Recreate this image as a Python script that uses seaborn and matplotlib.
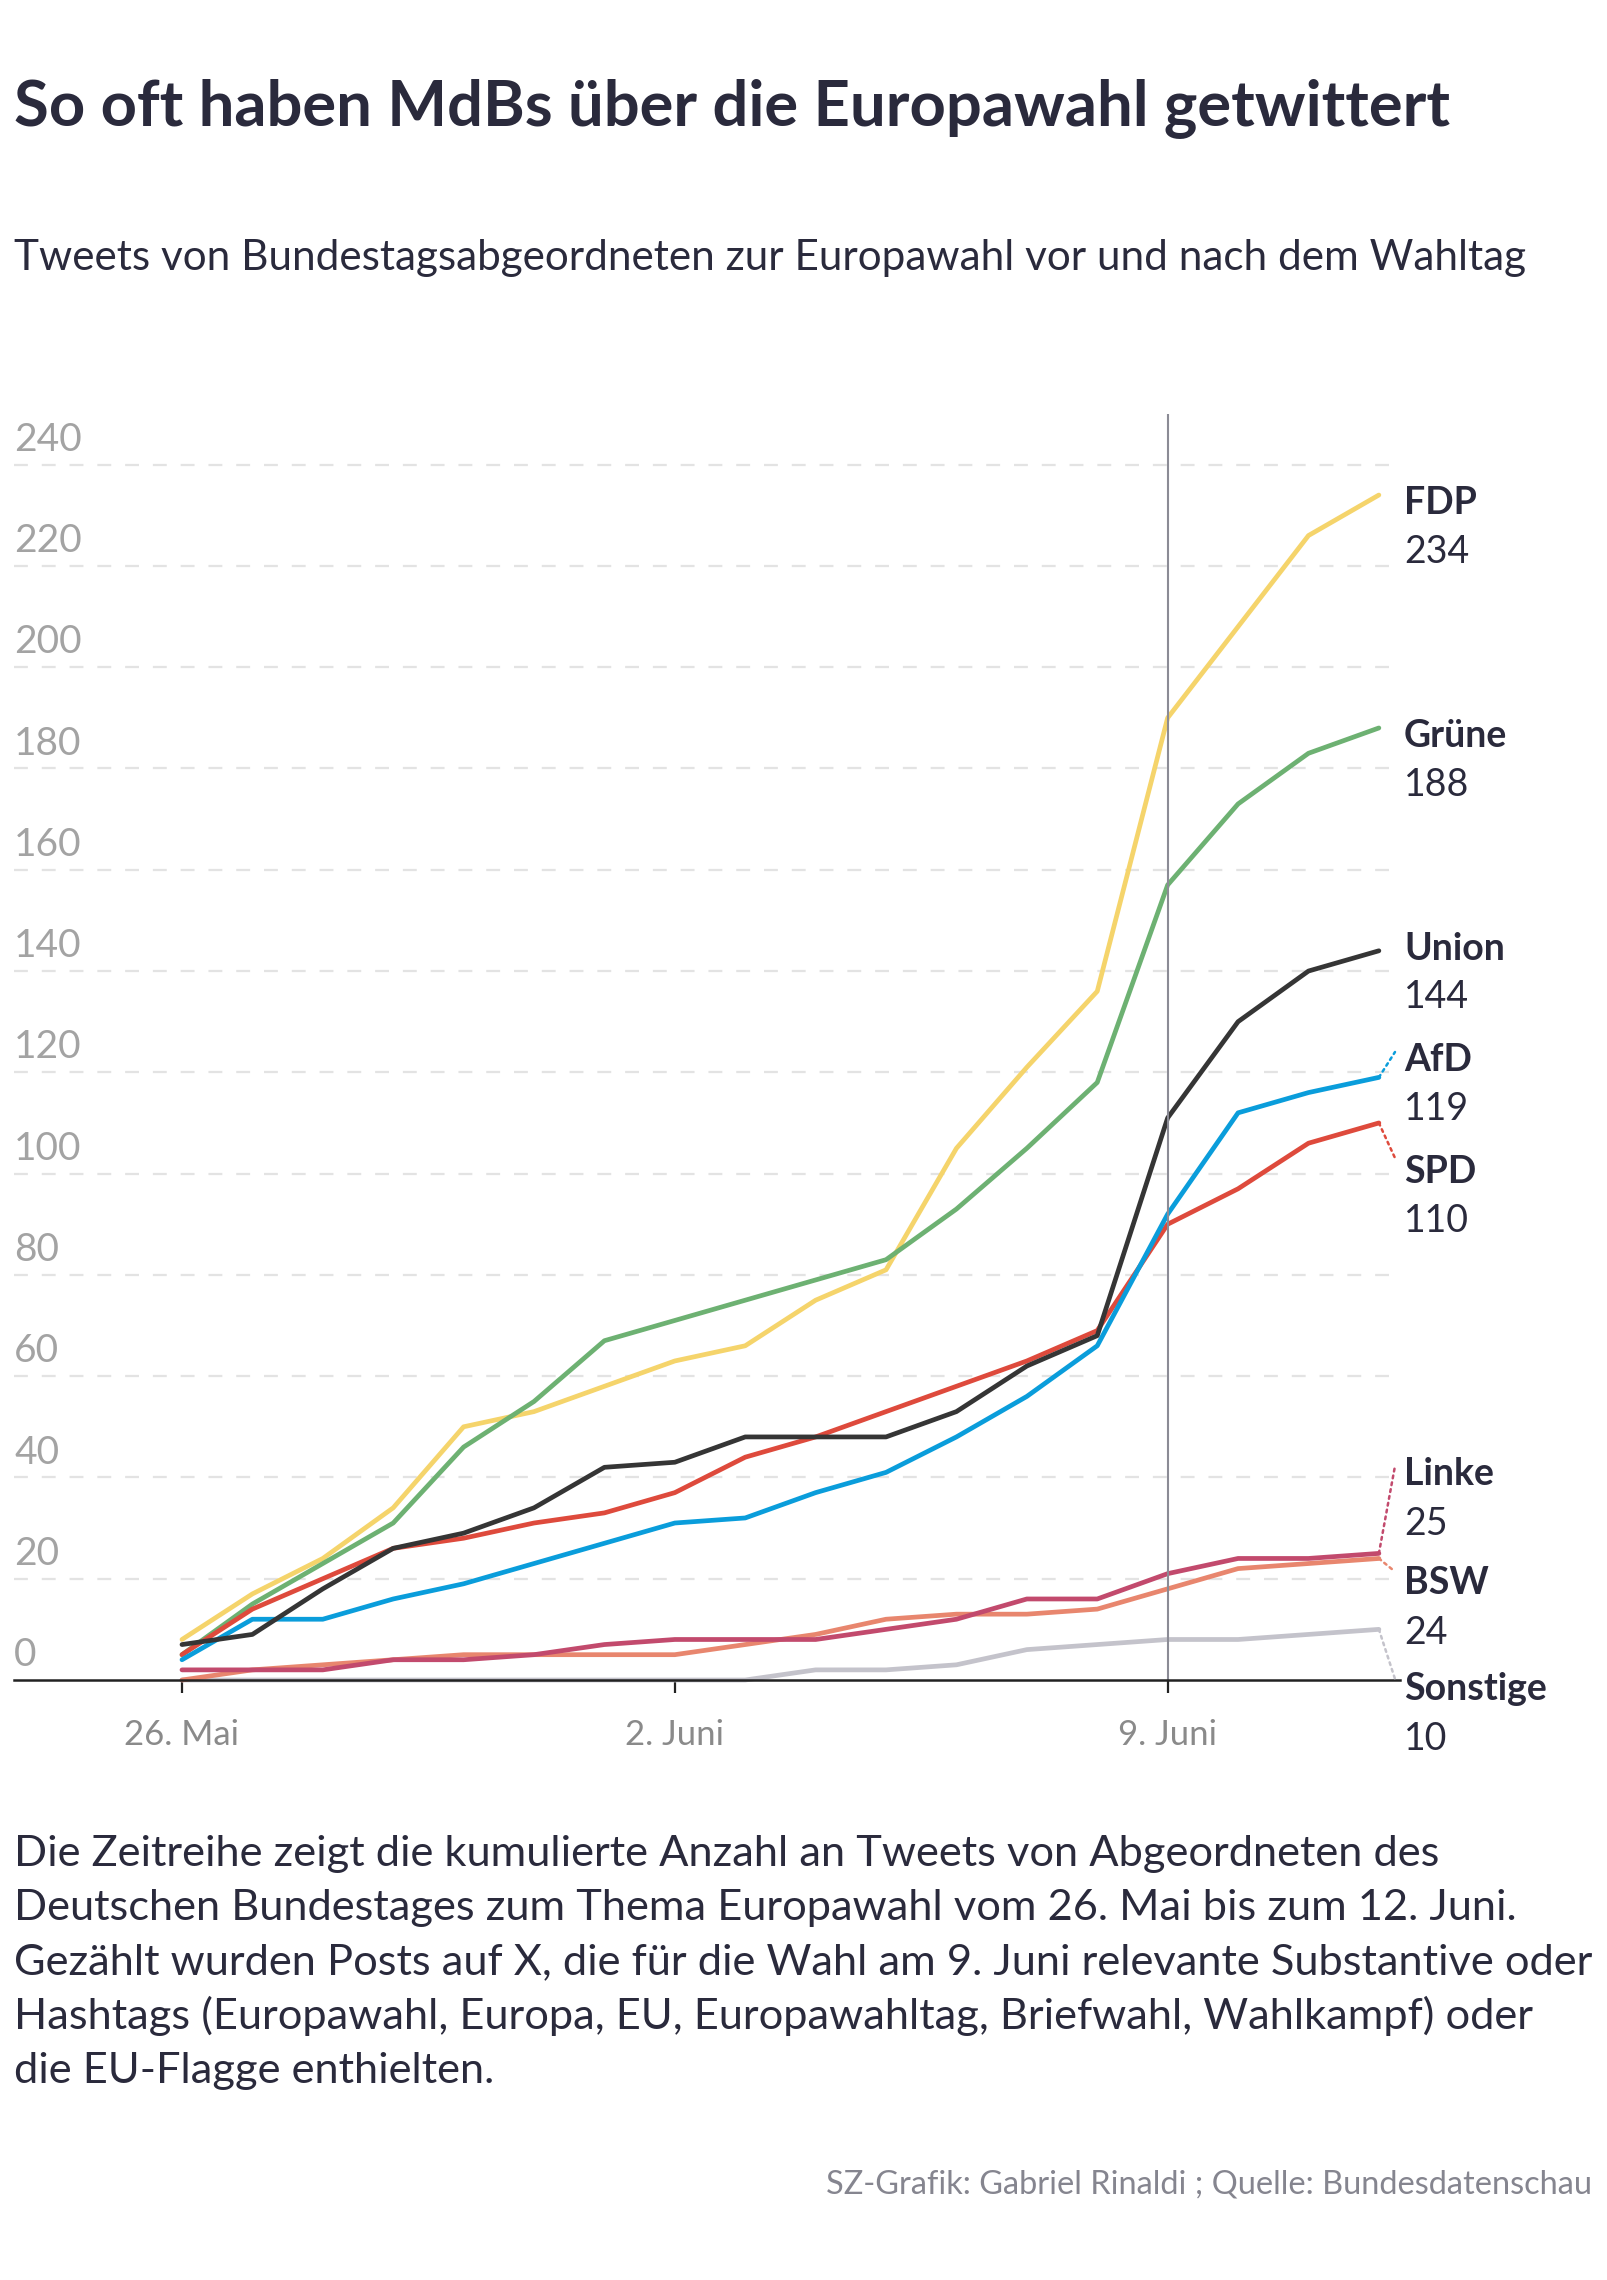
import matplotlib
matplotlib.use("Agg")
import matplotlib.pyplot as plt
import matplotlib.dates as mdates
import matplotlib.transforms as mtrans
from matplotlib.patches import ConnectionPatch
import seaborn as sns
import pandas as pd

sns.set_theme(style="white")
plt.rcParams['font.family'] = ['Lato', 'DejaVu Sans']
plt.rcParams['lines.scale_dashes'] = False

# ---------------- data ----------------
dates = pd.date_range("2024-05-26", "2024-06-12", freq="D")
parties = ["Sonstige", "BSW", "Linke", "FDP", "Grüne", "SPD", "AfD", "Union"]
fdp      = [8, 17, 24, 34, 50, 53, 58, 63, 66, 75, 81, 105, 121, 136, 190, 208, 226, 234]
gruene   = [5, 15, 23, 31, 46, 55, 67, 71, 75, 79, 83, 93, 105, 118, 157, 173, 183, 188]
union    = [7, 9, 18, 26, 29, 34, 42, 43, 48, 48, 48, 53, 62, 68, 111, 130, 140, 144]
afd      = [4, 12, 12, 16, 19, 23, 27, 31, 32, 37, 41, 48, 56, 66, 92, 112, 116, 119]
spd      = [5, 14, 20, 26, 28, 31, 33, 37, 44, 48, 53, 58, 63, 69, 90, 97, 106, 110]
linke    = [2, 2, 2, 4, 4, 5, 7, 8, 8, 8, 10, 12, 16, 16, 21, 24, 24, 25]
bsw      = [0, 2, 3, 4, 5, 5, 5, 5, 7, 9, 12, 13, 13, 14, 18, 22, 23, 24]
sonstige = [0, 0, 0, 0, 0, 0, 0, 0, 0, 2, 2, 3, 6, 7, 8, 8, 9, 10]
y_ticks = [0, 20, 40, 60, 80, 100, 120, 140, 160, 180, 200, 220, 240]
x_tick_dates = ["2024-05-26", "2024-06-02", "2024-06-09"]
x_tick_labels = ["26. Mai", "2. Juni", "9. Juni"]

series = {"FDP": fdp, "Grüne": gruene, "Union": union, "AfD": afd,
          "SPD": spd, "Linke": linke, "BSW": bsw, "Sonstige": sonstige}
colors = {"FDP": "#f5d46b", "Grüne": "#6db172", "Union": "#353535",
          "AfD": "#0a9ddb", "SPD": "#de4a3c", "Linke": "#c24a6d",
          "BSW": "#e8866e", "Sonstige": "#c4c3cb"}

df = pd.concat([pd.DataFrame({"date": dates, "value": v, "party": k})
                for k, v in series.items()], ignore_index=True)

TXT = "#2a2a3c"
GRAY = "#a3a3a3"

fig = plt.figure(figsize=(16.08, 22.8), dpi=100)
W, H = 1608, 2280
ax = fig.add_axes([14 / W, 1 - 1680 / H, (1400 - 14) / W, (1680 - 414) / H])

# grid
for v in y_ticks[1:]:
    ax.axhline(v, color="#e3e3e3", lw=1.6, dashes=(10, 10), zorder=0)

sns.lineplot(data=df, x="date", y="value", hue="party", hue_order=parties,
             palette=colors, linewidth=3.4, legend=False, ax=ax,
             estimator=None, sort=False)
for ln in ax.lines:
    ln.set_clip_on(False)
    ln.set_solid_capstyle("round")

d0 = mdates.date2num(dates[0])
ax.set_xlim(d0 - 2.386, d0 + 17.30)
ax.set_ylim(0, 250)

ax.axvline(mdates.date2num(pd.Timestamp("2024-06-09")), color="#8b8b95",
           lw=1.5, zorder=5)

for s in ["top", "right", "left"]:
    ax.spines[s].set_visible(False)
ax.spines["bottom"].set_color("#222222")
ax.spines["bottom"].set_linewidth(1.8)
ax.spines["bottom"].set_zorder(6)

ax.set_yticks([])
ax.set_xticks([mdates.date2num(pd.Timestamp(d)) for d in x_tick_dates])
ax.set_xticklabels(x_tick_labels)
ax.tick_params(axis="x", length=9, width=1.6, color="#222222", direction="out",
               labelsize=25, labelcolor="#8a8a8a", pad=19, bottom=True)
ax.set_xlabel("")
ax.set_ylabel("")

trans = mtrans.blended_transform_factory(ax.transAxes, ax.transData)
for v in y_ticks:
    ax.annotate(str(v), xy=(0, v), xycoords=trans, xytext=(0, 10),
                textcoords="offset points", ha="left", va="baseline",
                fontsize=28, color=GRAY, annotation_clip=False)

# right labels
lab_x = 1404 / W
labels = [("FDP", 503, 552), ("Grüne", 736, 785), ("Union", 949, 997),
          ("AfD", 1060, 1109), ("SPD", 1172, 1221), ("Linke", 1474, 1524),
          ("BSW", 1583, 1633), ("Sonstige", 1689, 1739)]
for name, yn, yv in labels:
    fig.text(lab_x, 1 - yn / H, name, fontsize=27, fontweight="bold",
             color=TXT, va="center", ha="left")
    fig.text(lab_x, 1 - yv / H, str(series[name][-1]), fontsize=27,
             color=TXT, va="center", ha="left")

leaders = {"AfD": (1395, 1052), "SPD": (1395, 1158), "Linke": (1395, 1466),
           "BSW": (1393, 1570), "Sonstige": (1396, 1682)}
last = mdates.date2num(dates[-1])
for name, (px, py) in leaders.items():
    cp = ConnectionPatch(xyA=(last, series[name][-1]), coordsA=ax.transData,
                         xyB=(px / W, 1 - py / H), coordsB=fig.transFigure,
                         color=colors[name], lw=1.8, linestyle=(0, (2, 3)))
    fig.add_artist(cp)

renderer = fig.canvas.get_renderer()


def fit(t, target):
    w = t.get_window_extent(renderer).width
    t.set_fontsize(t.get_fontsize() * target / w)
    return t


fit(fig.text(14 / W, 1 - 125 / H, "So oft haben MdBs über die Europawahl getwittert",
             fontsize=44, fontweight="bold", color=TXT, va="baseline"), 1436)
fit(fig.text(14 / W, 1 - 270 / H,
             "Tweets von Bundestagsabgeordneten zur Europawahl vor und nach dem Wahltag",
             fontsize=29, color=TXT, va="baseline"), 1512)

foot = ["Die Zeitreihe zeigt die kumulierte Anzahl an Tweets von Abgeordneten des",
        "Deutschen Bundestages zum Thema Europawahl vom 26. Mai bis zum 12. Juni.",
        "Gezählt wurden Posts auf X, die für die Wahl am 9. Juni relevante Substantive oder",
        "Hashtags (Europawahl, Europa, EU, Europawahltag, Briefwahl, Wahlkampf) oder",
        "die EU-Flagge enthielten."]
t3 = fit(fig.text(14 / W, 0.5, foot[2], fontsize=29, color=TXT), 1577)
fs = t3.get_fontsize()
t3.remove()
for i, line in enumerate(foot):
    fig.text(14 / W, 1 - (1866 + i * 54.2) / H, line, fontsize=fs, color=TXT,
             va="baseline")

fit(fig.text(1592 / W, 1 - 2194 / H,
             "SZ-Grafik: Gabriel Rinaldi ; Quelle: Bundesdatenschau",
             fontsize=21, color="#85858f", ha="right", va="baseline"), 766)

fig.savefig("out.png", dpi=100, facecolor="white")
